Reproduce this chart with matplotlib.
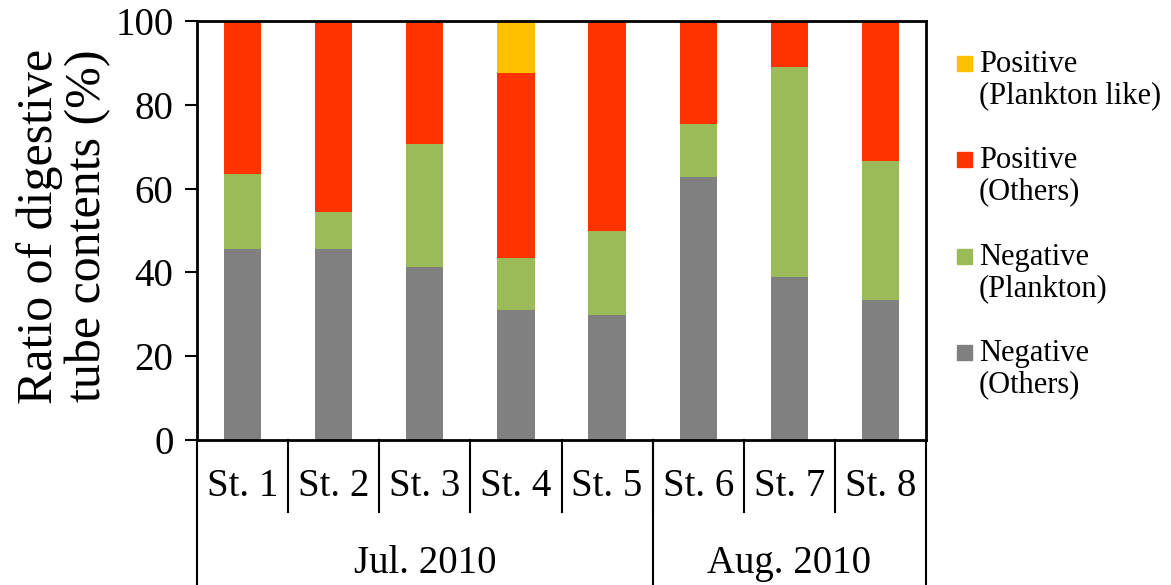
import matplotlib.pyplot as plt
import matplotlib.transforms as mtransforms
from matplotlib.patches import Rectangle
import numpy as np

plt.rcParams['font.family'] = ['Liberation Serif', 'DejaVu Serif']

stations = ['St. 1', 'St. 2', 'St. 3', 'St. 4', 'St. 5', 'St. 6', 'St. 7', 'St. 8']
months = ['Jul. 2010', 'Aug. 2010']
month_sizes = [5, 3]

# percentages, bottom to top
neg_others = [45.5, 45.5, 41.4, 31.1, 29.9, 62.7, 39.0, 33.3]
neg_plankton = [18.1, 9.0, 29.2, 12.4, 20.1, 12.7, 50.0, 33.4]
pos_others = [36.4, 45.5, 29.4, 44.1, 50.0, 24.6, 11.0, 33.3]
pos_plankton_like = [0, 0, 0, 12.4, 0, 0, 0, 0]

series = [neg_others, neg_plankton, pos_others, pos_plankton_like]
labels = ['Negative\n(Others)', 'Negative\n(Plankton)', 'Positive\n(Others)', 'Positive\n(Plankton like)']
colors = ['#808080', '#9BBB59', '#FF3300', '#FFC000']

fig = plt.figure(figsize=(11.71, 5.85), dpi=100)
ax = fig.add_axes([197/1171, 1-440/585, (926-197)/1171, (440-21)/585])

x = np.arange(len(stations))
bottom = np.zeros(len(stations))
for vals, c in zip(series, colors):
    ax.bar(x, vals, 0.41, bottom=bottom, color=c, zorder=2)
    bottom += np.array(vals)

ax.set_xlim(-0.5, len(stations) - 0.5)
ax.set_ylim(0, 100)
ax.set_yticks([0, 20, 40, 60, 80, 100])
ax.tick_params(axis='y', labelsize=28, length=9, width=1.5, direction='out', pad=8)
ax.set_xticks([])
for s in ax.spines.values():
    s.set_linewidth(2)

fig.text(64/1171, 1-226/585, 'Ratio of digestive\ntube contents (%)', rotation=90,
         ha='center', va='center', fontsize=36, linespacing=1.05)

# category axis below the plot
trans = mtransforms.blended_transform_factory(ax.transData, ax.transAxes)
for i, st in enumerate(stations):
    ax.text(i, -0.112, st, transform=trans, ha='center', va='center', fontsize=28)
for b in range(1, len(stations)):
    ax.plot([b - 0.5, b - 0.5], [0, -0.172], transform=trans, color='black', lw=1.5, clip_on=False)
start = -0.5
for m, n in zip(months, month_sizes):
    ax.plot([start, start], [0, -0.4], transform=trans, color='black', lw=1.5, clip_on=False)
    ax.text(start + n / 2, -0.294, m, transform=trans, ha='center', va='center', fontsize=28)
    start += n
ax.plot([start, start], [0, -0.4], transform=trans, color='black', lw=1.5, clip_on=False)

# legend, top entry first
ys = [64, 160, 257, 353]
for yy, lab, c in zip(ys, labels[::-1], colors[::-1]):
    fig.patches.append(Rectangle((957/1171, 1-(yy+7)/585), 15/1171, 15/585,
                                 transform=fig.transFigure, color=c))
    fig.text(979/1171, 1-(yy-14)/585, lab, ha='left', va='top', fontsize=22, linespacing=1.12)

fig.savefig('out.png', dpi=100)
